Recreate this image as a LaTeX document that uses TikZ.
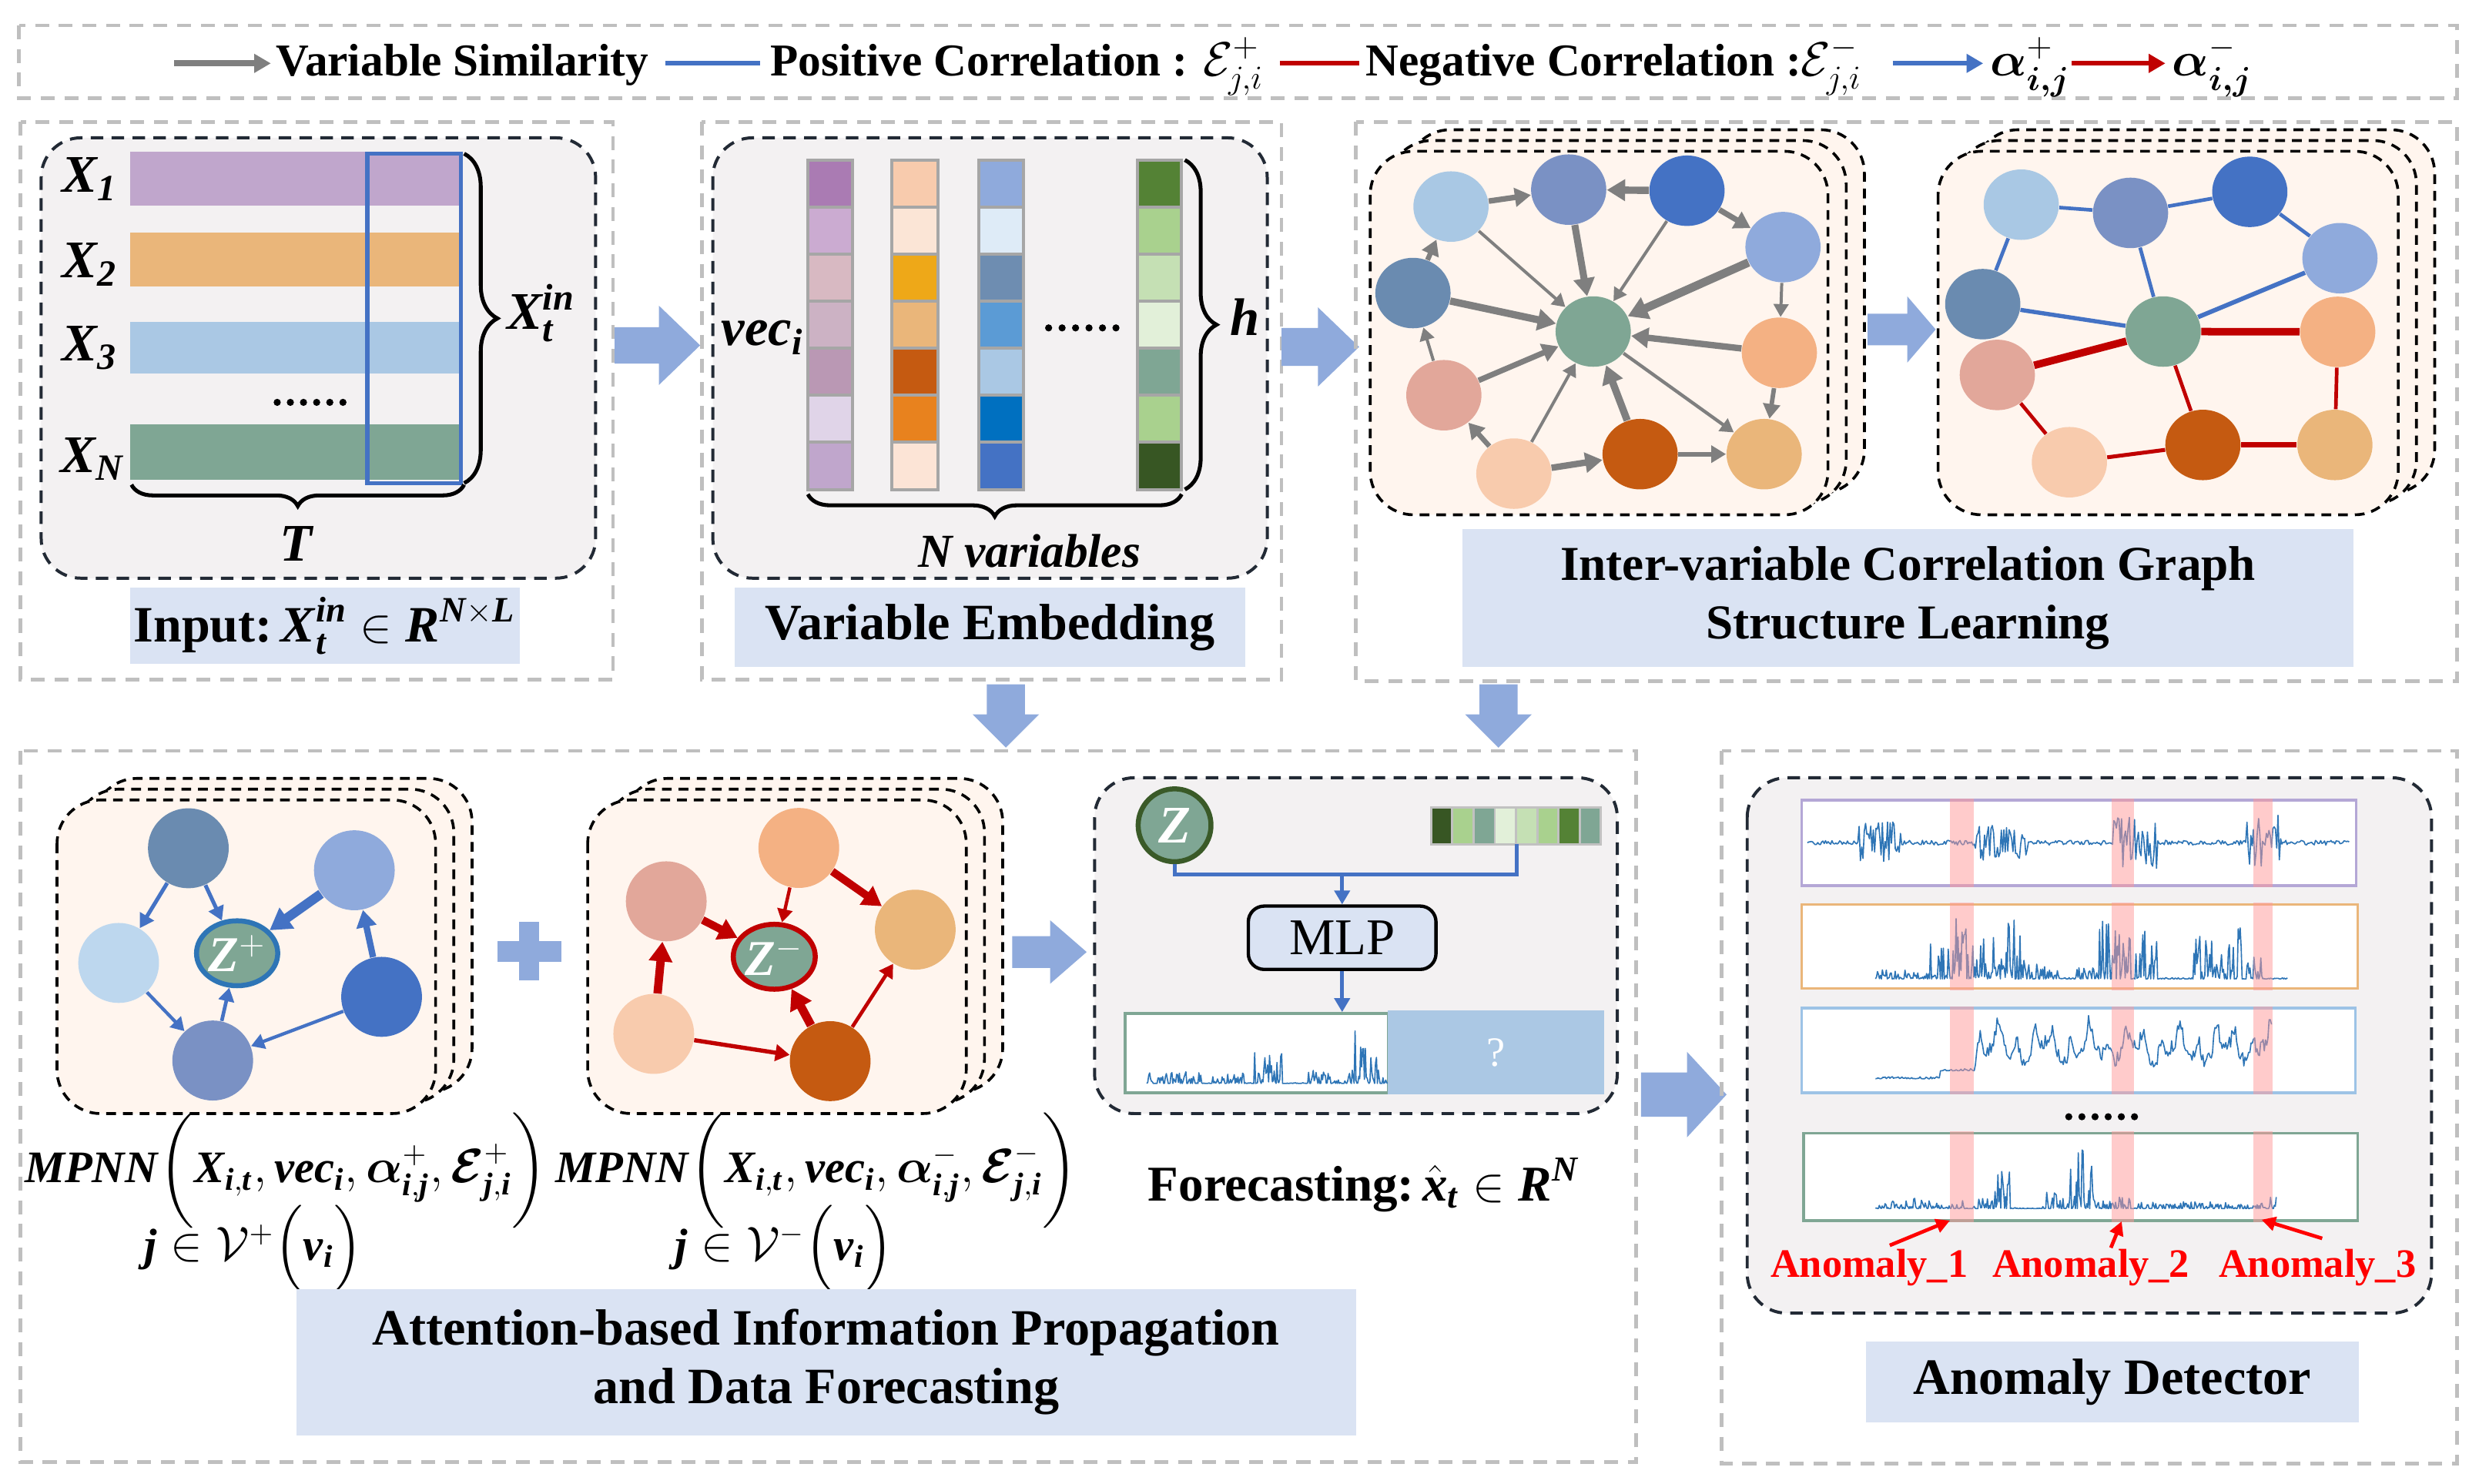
\documentclass[tikz,border=0pt]{standalone}
\usepackage{fontspec}
\setmainfont{Liberation Serif}
\usepackage{amsmath}
\usetikzlibrary{shapes.geometric,arrows.meta,decorations.pathreplacing}
\newcommand\tb[1]{\textbf{\textit{#1}}}
\definecolor{outgray}{HTML}{BFBFBF}
\definecolor{innerdark}{HTML}{222A35}
\definecolor{panelgray}{HTML}{F3F1F2}
\definecolor{peach}{HTML}{FFF5EE}
\definecolor{titlebg}{HTML}{DAE3F3}
\definecolor{arrfill}{HTML}{8FAADC}
\definecolor{arrgray}{HTML}{7F7F7F}
\definecolor{cB}{HTML}{4472C4}
\definecolor{cR}{HTML}{C00000}
\definecolor{cLB}{HTML}{A9C8E4}
\definecolor{cMB}{HTML}{7A91C4}
\definecolor{cLBtwo}{HTML}{8FAADC}
\definecolor{cSB}{HTML}{6A8BB0}
\definecolor{cG}{HTML}{7FA694}
\definecolor{cPe}{HTML}{F4B183}
\definecolor{cPi}{HTML}{E2A79A}
\definecolor{cLP}{HTML}{F8CBAD}
\definecolor{cDO}{HTML}{C55A11}
\definecolor{cT}{HTML}{EAB67A}
\definecolor{cVLB}{HTML}{BDD7EE}
\definecolor{cellgray}{HTML}{A6A6A6}
\definecolor{wblue}{HTML}{2E75B6}
\definecolor{zring}{HTML}{2E75B6}
\definecolor{zgreen}{HTML}{3A5A28}
\definecolor{qbox}{HTML}{ABC8E4}
\definecolor{bandc}{HTML}{FF9999}
\definecolor{barP}{HTML}{C0A6CC}
\definecolor{barO}{HTML}{EAB67A}
\definecolor{barB}{HTML}{AAC8E4}
\definecolor{barG}{HTML}{7FA694}
\definecolor{chP}{HTML}{B4A7D6}
\definecolor{chB}{HTML}{9DC3E6}
\definecolor{anred}{HTML}{FF0000}
\newcommand\embcol[3]{\foreach \c [count=\k from 0] in {#3} {\definecolor{tmpc}{HTML}{\c}\filldraw[draw=cellgray, line width=1.1pt, fill=tmpc] (#1,{101+\k*29.71}) rectangle (#2,{101+(\k+1)*29.71});}}
\newcommand\blockR[6]{\fill[arrfill] (#1,{#4-#5}) -- (#2,{#4-#5}) -- (#2,{#4-#6}) -- (#3,#4) -- (#2,{#4+#6}) -- (#2,{#4+#5}) -- (#1,{#4+#5}) -- cycle;}
\newcommand\blockD[6]{\fill[arrfill] ({#1-#5},#2) -- ({#1-#5},#3) -- ({#1-#6},#3) -- (#1,#4) -- ({#1+#6},#3) -- ({#1+#5},#3) -- ({#1+#5},#2) -- cycle;}
\newcommand\stack[4]{%
\foreach \s in {2,1,0} {\filldraw[stackf] ({#1+11.5*\s},{#2-6.8*\s}) rectangle ({#3+11.5*\s},{#4-6.8*\s});}}
\tikzset{
  outer/.style={draw=outgray, line width=1.3pt, dash pattern=on 5pt off 3.5pt},
  inner/.style={draw=innerdark, line width=1.1pt, dash pattern=on 4.5pt off 3pt, rounded corners=0.5cm, fill=panelgray},
  stackf/.style={draw=black, line width=1pt, dash pattern=on 3.5pt off 2.5pt, rounded corners=0.55cm, fill=peach},
  title/.style={fill=titlebg, inner sep=0pt, align=center, font=\fontsize{18.3}{22}\selectfont\bfseries},
  gn/.style={ellipse, inner sep=0pt, minimum width=0.95cm, minimum height=0.89cm, fill=#1},
  bn/.style={ellipse, inner sep=0pt, minimum width=1.02cm, minimum height=1.01cm, fill=#1},
  zn/.style={ellipse, inner sep=0pt, minimum width=0.9cm, minimum height=0.82cm, fill=cG, draw=#1, line width=1.8pt, text=white, font=\fontsize{18}{20}\selectfont\bfseries\itshape},
  garr/.style={draw=arrgray, line width=#1, -{Triangle[length=3.2pt 1.3, width=3.6pt 1.5]}},
  barr/.style={draw=cB, line width=#1, -{Triangle[length=3.2pt 1.3, width=3.6pt 1.5]}},
  rarr/.style={draw=cR, line width=#1, -{Triangle[length=3.2pt 1.3, width=3.6pt 1.5]}},
  bl/.style={draw=cB, line width=#1},
  rl/.style={draw=cR, line width=#1},
  lg/.style={font=\fontsize{16.4}{19}\selectfont\bfseries, inner sep=0pt},
  big/.style={font=\fontsize{19}{22}\selectfont\bfseries\itshape, inner sep=0pt},
  mp/.style={font=\fontsize{16.2}{19}\selectfont, inner sep=0pt},
  brc/.style={draw=black, line width=1.4pt, decorate},
  wave/.style={draw=wblue, line width=0.45pt, line join=round},
  declare function={bx(\x,\a,\b)=(\x>\a)*(\x<\b);}
}
\begin{document}
\begin{tikzpicture}[x=0.02cm,y=-0.02cm]
\useasboundingbox (0,0) rectangle (1565,936.4);
\fill[white] (0,0) rectangle (1565,936.4);

% ---------------- legend
\draw[outer] (12,16) rectangle (1551,62);
\coordinate (lga) at (110,40); \coordinate (lgb) at (171,40);
\draw[draw=arrgray, line width=2.2pt, -{Triangle[length=6pt, width=6.5pt]}] (lga) -- (lgb);
\node[lg, anchor=base west] (lt1) at (174,48) {Variable Similarity};
\coordinate (lgc) at (420,40); \coordinate (lgd) at (480,40);
\draw[bl=1.7pt] (lgc) -- (lgd);
\node[lg, anchor=base west] (lt2) at (486,48) {Positive Correlation : $\mathcal{E}^{+}_{j,i}$};
\coordinate (lge) at (808,40); \coordinate (lgf) at (858,40);
\draw[rl=1.7pt] (lge) -- (lgf);
\node[lg, anchor=base west] (lt3) at (862,48) {Negative Correlation :$\mathcal{E}^{-}_{j,i}$};
\coordinate (lgg) at (1195,40); \coordinate (lgh) at (1252,40);
\draw[draw=cB, line width=1.7pt, -{Triangle[length=6pt, width=6.5pt]}] (lgg) -- (lgh);
\node[lg, anchor=base west] (lt4) at (1256,48) {$\boldsymbol{\alpha}^{+}_{\boldsymbol{i,j}}$};
\coordinate (lgi) at (1308,40); \coordinate (lgj) at (1367,40);
\draw[draw=cR, line width=1.7pt, -{Triangle[length=6pt, width=6.5pt]}] (lgi) -- (lgj);
\node[lg, anchor=base west] (lt5) at (1371,48) {$\boldsymbol{\alpha}^{-}_{\boldsymbol{i,j}}$};

% ---------------- panel 1: input
\draw[outer] (13,77) rectangle (387,429);
\filldraw[inner] (26,87) rectangle (376,365);
\fill[barP] (82,96) rectangle (290,130);
\fill[barO] (82,147) rectangle (290,181);
\fill[barB] (82,203) rectangle (290,236);
\fill[barG] (82,268) rectangle (290,303);
\draw[draw=cB, line width=1.5pt] (232,97) rectangle (291,305);
\node[big, anchor=base west] (x1) at (39,121.5) {$\tb{X}_{\textbf{1}}$};
\node[big, anchor=base west] (x2) at (39,175.5) {$\tb{X}_{\textbf{2}}$};
\node[big, anchor=base west] (x3) at (39,228) {$\tb{X}_{\textbf{3}}$};
\node[big, anchor=base west] (xn) at (38,298.5) {$\tb{X}_{\tb{N}}$};
\foreach \i in {0,...,5} \fill[black] ({175+\i*8.3},254) circle[radius=0.045cm];
\draw[brc, decoration={brace, amplitude=0.42cm}] (293,97) -- (293,305);
\node[big, anchor=base west] (xin) at (320,208) {$\tb{X}_{\tb{t}}^{\tb{in}}$};
\draw[brc, decoration={brace, amplitude=0.27cm}] (293,306) -- (83,306);
\node[big] (tt) at (187,343) {T};
\node[title, minimum width=4.92cm, minimum height=0.96cm] (t1) at (205,395)
  {Input:\,$\tb{X}_{\tb{t}}^{\tb{in}}\in\tb{R}^{\tb{N}\times \tb{L}}$};

\blockR{388}{416}{442}{218}{11.5}{25}

% ---------------- panel 2: variable embedding
\draw[outer] (443,77) rectangle (809,429);
\filldraw[inner] (450,87) rectangle (800,365);
\embcol{510}{538}{AA7BB3,CBABD1,D8B9C2,CCB2C4,BA98B4,E0D4E8,C0A6CC}
\embcol{563}{592}{F8CBAD,FBE5D6,EEA818,EAB67A,C55A11,E8821E,FCE4D6}
\embcol{618}{646}{8FAADC,DEEBF7,6E8DB1,5B9BD5,AAC8E4,0070C0,4472C4}
\embcol{718}{746}{548235,A9D18E,C5E0B4,E2F0D9,7FA694,A9D18E,375623}
\node[big, anchor=base west] (vec) at (455,218) {$\tb{vec}_{\tb{i}}$};
\foreach \i in {0,...,5} \fill[black] ({662+\i*8.5},207) circle[radius=0.045cm];
\draw[brc, decoration={brace, amplitude=0.4cm}] (748,101) -- (748,309);
\node[big] (hh) at (786,200) {$\tb{h}$};
\draw[brc, decoration={brace, amplitude=0.28cm}] (746,312) -- (510,312);
\node[big, font=\fontsize{17}{20}\selectfont\bfseries\itshape] (nv) at (650,348) {N variables};
\node[title, minimum width=6.44cm, minimum height=1.0cm] (t2) at (625,396) {Variable Embedding};

\blockR{809}{832}{858}{219}{12}{25}

% ---------------- panel 3: graph structure learning
\draw[outer] (856,77) rectangle (1551,430);
\stack{865}{95.5}{1154}{325}
\node[gn=cLB] (A) at (916,130.4) {};
\node[gn=cMB] (B) at (990.3,119.7) {};
\node[gn=cB] (C) at (1065,120.4) {};
\node[gn=cLBtwo] (D) at (1125.6,156) {};
\node[gn=cSB] (E) at (892,185) {};
\node[gn=cG] (F) at (1005.8,209.3) {};
\node[gn=cPe] (G) at (1123.3,222.7) {};
\node[gn=cPi] (H) at (911.5,249.5) {};
\node[gn=cLP] (I) at (955.7,299) {};
\node[gn=cDO] (J) at (1035.4,286.7) {};
\node[gn=cT] (K) at (1113.7,286.7) {};
\draw[garr=2pt] (A) -- (B);
\draw[garr=2.6pt] (C) -- (B);
\draw[garr=2pt] (C) -- (D);
\draw[garr=1.8pt] (E) -- (A);
\draw[garr=1.1pt] (H) -- (E);
\draw[garr=1.1pt] (A) -- (F);
\draw[garr=2.5pt] (B) -- (F);
\draw[garr=1.1pt] (C) -- (F);
\draw[garr=3pt] (D) -- (F);
\draw[garr=2.6pt] (E) -- (F);
\draw[garr=2.3pt] (G) -- (F);
\draw[garr=2pt] (H) -- (F);
\draw[garr=1.1pt] (I) -- (F);
\draw[garr=2.6pt] (J) -- (F);
\draw[garr=1.2pt] (F) -- (K);
\draw[garr=1.1pt] (D) -- (G);
\draw[garr=1.6pt] (G) -- (K);
\draw[garr=1.8pt] (I) -- (H);
\draw[garr=2.3pt] (I) -- (J);
\draw[garr=1.6pt] (J) -- (K);

\blockR{1179}{1204}{1222}{208}{10}{21}

\stack{1223.5}{95.5}{1514}{325}
\node[gn=cLB] (a) at (1276,129.2) {};
\node[gn=cMB] (b) at (1345,134.4) {};
\node[gn=cB] (c) at (1420.3,121.1) {};
\node[gn=cLBtwo] (d) at (1477.2,163) {};
\node[gn=cSB] (e) at (1251.7,192) {};
\node[gn=cG] (f) at (1365.6,209.3) {};
\node[gn=cPe] (g) at (1475.8,209.5) {};
\node[gn=cPi] (h) at (1260.9,236.7) {};
\node[gn=cLP] (i) at (1306.4,291.8) {};
\node[gn=cDO] (j) at (1390.7,280.9) {};
\node[gn=cT] (k) at (1474,280.9) {};
\draw[bl=1.3pt] (a) -- (b);
\draw[bl=1.3pt] (b) -- (c);
\draw[bl=1.3pt] (c) -- (d);
\draw[bl=1.3pt] (a) -- (e);
\draw[bl=1.3pt] (b) -- (f);
\draw[bl=1.5pt] (e) -- (f);
\draw[bl=1.6pt] (f) -- (d);
\draw[rl=2.7pt] (f) -- (g);
\draw[rl=2.7pt] (f) -- (h);
\draw[rl=1.3pt] (f) -- (j);
\draw[rl=1.3pt] (h) -- (i);
\draw[rl=1.4pt] (i) -- (j);
\draw[rl=1.9pt] (j) -- (k);
\draw[rl=1.3pt] (g) -- (k);
\node[title, minimum width=11.26cm, minimum height=1.74cm, font=\fontsize{17.5}{21}\selectfont\bfseries] (t3) at (1204.5,377.5) {Inter-variable Correlation Graph\\Structure Learning};

\blockD{635}{432}{451}{472}{12}{21}
\blockD{946}{432}{451}{472}{12}{21}

% ---------------- panel 4: attention propagation
\draw[outer] (13,474) rectangle (1033,923);
\stack{36}{505}{275}{703}
\node[bn=cSB] (n1) at (118.9,535.5) {};
\node[bn=cLBtwo] (n2) at (223.7,549.4) {};
\node[bn=cVLB] (n3) at (74.9,607.9) {};
\node[zn=zring] (zp) at (149.7,601.8) {Z$^{+}$};
\node[bn=cB] (n4) at (240.9,629.3) {};
\node[bn=cMB] (n5) at (134.3,669.5) {};
\draw[barr=1.4pt] (n1) -- (n3);
\draw[barr=1.4pt] (n1) -- (zp);
\draw[barr=3.4pt] (n2) -- (zp);
\draw[barr=2.3pt] (n4) -- (n2);
\draw[barr=1.2pt] (n3) -- (n5);
\draw[barr=1.3pt] (n5) -- (zp);
\draw[barr=1.2pt] (n4) -- (n5);

\fill[arrfill] (327.5,582) rectangle (340.5,619);
\fill[arrfill] (314,594) rectangle (354.5,607);

\stack{371}{505}{610}{703}
\node[bn=cPe] (m1) at (504.3,535.3) {};
\node[bn=cPi] (m2) at (420.6,569) {};
\node[bn=cT] (m3) at (577.8,586.9) {};
\node[zn=cR] (zm) at (488.8,604) {Z$^{-}$};
\node[bn=cLP] (m4) at (412.7,652.7) {};
\node[bn=cDO] (m5) at (524.1,669.9) {};
\draw[rarr=2.8pt] (m1) -- (m3);
\draw[rarr=1.2pt] (m1) -- (zm);
\draw[rarr=2.8pt] (m2) -- (zm);
\draw[rarr=3pt] (m4) -- (m2);
\draw[rarr=3.1pt] (m5) -- (zm);
\draw[rarr=1.5pt] (m4) -- (m5);
\draw[rarr=1.3pt] (m5) -- (m3);

\blockR{639}{663}{686}{601}{10}{20}

\node[mp] (f1) at (180.5,739)
  {$\tb{MPNN}\biggl(\tb{X}_{\tb{i},\tb{t}},\tb{vec}_{\tb{i}},\boldsymbol{\alpha}^{+}_{\tb{i},\tb{j}},\boldsymbol{\mathcal{E}}^{+}_{\tb{j},\tb{i}}\biggr)$};
\node[mp] (g1) at (160,788)
  {$\tb{j}\in\mathcal{V}^{+}\Bigl(\tb{v}_{\tb{i}}\Bigr)$};
\node[mp] (f2) at (515.5,739)
  {$\tb{MPNN}\biggl(\tb{X}_{\tb{i},\tb{t}},\tb{vec}_{\tb{i}},\boldsymbol{\alpha}^{-}_{\tb{i},\tb{j}},\boldsymbol{\mathcal{E}}^{-}_{\tb{j},\tb{i}}\biggr)$};
\node[mp] (g2) at (495,788)
  {$\tb{j}\in\mathcal{V}^{-}\Bigl(\tb{v}_{\tb{i}}\Bigr)$};

% forecasting
\filldraw[inner] (691,491) rectangle (1021,703);
\node[circle, inner sep=0pt, minimum size=0.92cm, fill=cG, draw=zgreen, line width=1.8pt, text=white, font=\fontsize{19}{20}\selectfont\bfseries\itshape] (Z) at (741.5,521) {Z};
\foreach \c [count=\k from 0] in {375623,A9D18E,7FA694,E2F0D9,C5E0B4,A9D18E,548235,7FA694} {\definecolor{tmpc}{HTML}{\c}\filldraw[draw=cellgray!70, line width=0.8pt, fill=tmpc] ({903.4+\k*13.41},509.6) rectangle ({903.4+(\k+1)*13.41},533);}
\coordinate (barb) at (957.6,533);
\coordinate (j1) at (847.3,552.1);
\node[draw=black, line width=1.2pt, fill=titlebg, rounded corners=0.2cm, minimum width=2.37cm, minimum height=0.8cm, inner sep=0pt, font=\fontsize{18.5}{20}\selectfont] (mlp) at (847.3,592) {MLP};
\draw[draw=cB, line width=1.4pt] (Z.south) |- (j1);
\draw[draw=cB, line width=1.4pt] (barb) |- (j1);
\draw[draw=cB, line width=1.4pt, -{Triangle[length=5pt, width=5.5pt]}] (j1) -- (mlp.north);
\node[draw=cG, line width=1pt, fill=white, minimum width=3.32cm, minimum height=1.0cm, inner sep=0pt] (fc) at (793.25,664.8) {};
\draw[draw=cB, line width=1.4pt, -{Triangle[length=5pt, width=5.5pt]}] (mlp.south) -- (mlp.south |- fc.north);
\pgfmathsetseed{7}
\draw[wave] plot[domain=724:876, samples=260, variable=\x] (\x, {684 - (0.5 + 7*bx(\x,724,760) + 6*bx(\x,765,786) + 22*bx(\x,792,810) + 9*bx(\x,826,855) + 34*bx(\x,855,876))*rnd^3});
\node[fill=qbox, minimum width=2.73cm, minimum height=1.06cm, inner sep=0pt, text=white, font=\fontsize{15}{16}\selectfont] (qq) at (944.5,664.5) {?};
\node[font=\fontsize{18}{21}\selectfont, inner sep=0pt] (fl) at (861,748)
  {\textbf{Forecasting:}\,$\hat{\tb{x}}_{\tb{t}}\in\tb{R}^{\tb{N}}$};

\node[title, minimum width=13.38cm, minimum height=1.84cm, font=\fontsize{18.3}{21}\selectfont\bfseries] (t4) at (521.5,860) {Attention-based Information Propagation\\and Data Forecasting};

\blockR{1036}{1065}{1090}{691}{14}{27}

% ---------------- panel 5: anomaly detector
\draw[outer] (1087,474) rectangle (1551,924);
\filldraw[inner] (1103,491) rectangle (1535,829);
\filldraw[fill=white, draw=chP, line width=1pt] (1137.3,505) rectangle (1487.5,559);
\filldraw[fill=white, draw=cT, line width=1pt] (1137.3,571) rectangle (1488.4,624);
\filldraw[fill=white, draw=chB, line width=1pt] (1137.3,636.5) rectangle (1487,690);
\filldraw[fill=white, draw=cG, line width=1pt] (1138.5,715.4) rectangle (1488.4,770.5);
\pgfmathsetseed{11}
\draw[wave] plot[domain=1141:1483, samples=420, variable=\x] (\x, {532 + (1.5 + 12*bx(\x,1173,1200) + 10*bx(\x,1247,1280) + 15*bx(\x,1333,1362) + 16*bx(\x,1418,1441))*rand});
\pgfmathsetseed{23}
\draw[wave] plot[domain=1184:1444, samples=420, variable=\x] (\x, {618 - (0.8 + 5*bx(\x,1184,1215) + 22*bx(\x,1215,1232) + 38*bx(\x,1232,1250) + 30*bx(\x,1250,1265) + 38*bx(\x,1265,1278) + 12*bx(\x,1278,1300) + 8*bx(\x,1310,1325) + 40*bx(\x,1325,1345) + 38*bx(\x,1348,1362) + 32*bx(\x,1385,1415) + 15*bx(\x,1418,1428))*rnd^3});
\pgfmathsetseed{31}
\draw[wave] plot[domain=1184:1434, samples=330, variable=\x] (\x, {684 - 3 - 5*bx(\x,1225,1247) - bx(\x,1247,1434)*(7 + 12*abs(sin((\x-1247)*6.3))^2 + 14*abs(sin((\x-1247)*15.7+40))^6) - (1.5 + 7*bx(\x,1247,1434))*rnd^2});
\pgfmathsetseed{47}
\draw[wave] plot[domain=1184:1437, samples=420, variable=\x] (\x, {763 - (0.6 + 6*bx(\x,1184,1215) + 5*bx(\x,1215,1240) + 7*bx(\x,1245,1255) + 25*bx(\x,1255,1270) + 10*bx(\x,1288,1305) + 38*bx(\x,1305,1322) + 7*bx(\x,1322,1345) + 4*bx(\x,1350,1410) + 3*bx(\x,1410,1433) + 10*bx(\x,1433,1437))*rnd^3});
\foreach \bxa/\bxb in {1231/1246,1333/1347,1422.5/1434.5} {
  \foreach \ya/\yb in {504/560,570/625,635.5/691,714.4/771.5} {
    \fill[bandc, opacity=0.5] (\bxa,\ya) rectangle (\bxb,\yb);
  }
}
\foreach \i in {0,...,5} \fill[black] ({1306+\i*8.3},705) circle[radius=0.045cm];
\node[text=anred, font=\fontsize{14.5}{16}\selectfont\bfseries, inner sep=0pt] (an1) at (1180,800) {Anomaly\_1};
\node[text=anred, font=\fontsize{14.5}{16}\selectfont\bfseries, inner sep=0pt] (an2) at (1320,800) {Anomaly\_2};
\node[text=anred, font=\fontsize{14.5}{16}\selectfont\bfseries, inner sep=0pt] (an3) at (1463,800) {Anomaly\_3};
\coordinate (ap1) at (1193,786.2); \coordinate (aq1) at (1231,770.5);
\coordinate (ap2) at (1332.6,787.7); \coordinate (aq2) at (1339.4,771);
\coordinate (ap3) at (1466,781.8); \coordinate (aq3) at (1427.7,770);
\foreach \p/\q in {ap1/aq1,ap2/aq2,ap3/aq3}
  \draw[draw=anred, line width=1.3pt, -{Triangle[length=5pt, width=5pt]}] (\p) -- (\q);
\node[title, minimum width=6.22cm, minimum height=1.02cm] (t5) at (1333.5,872.5) {Anomaly Detector};
\end{tikzpicture}
\end{document}
